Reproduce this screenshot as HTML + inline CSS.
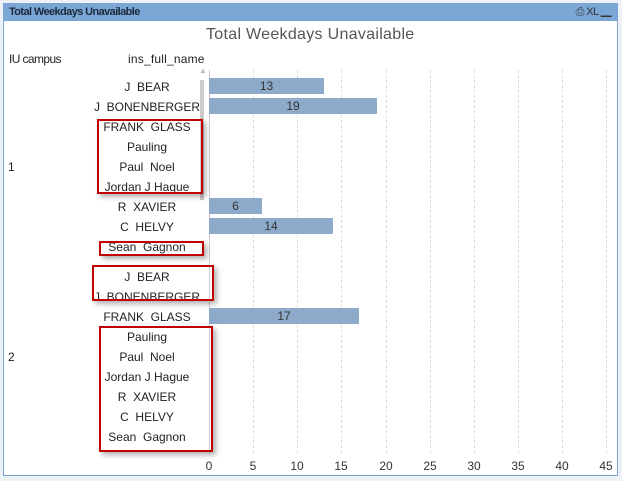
<!DOCTYPE html>
<html><head><style>
body{margin:0;width:622px;height:481px;background:#eef1f5;position:relative;overflow:hidden;font-family:"Liberation Sans",sans-serif}
.win{position:absolute;left:3px;top:3px;width:615px;height:473px;background:#fff;border:1px solid #7aa4d4;box-sizing:border-box}
.hdr{position:absolute;left:0;top:0;right:0;height:17px;background:#7ba7d7;font-weight:bold;font-size:11px;color:#1b2a3a;line-height:17px;padding-left:5px;letter-spacing:-0.6px}
.t{position:absolute;font-size:12px;color:#222;white-space:nowrap}
.n{position:absolute;font-size:12px;color:#222;white-space:nowrap;width:140px;left:77px;text-align:center}
.g{position:absolute;top:70px;height:383px;border-left:1px dashed #ddd}
.bar{position:absolute;height:16px;background:#8eaacb;left:209px;font-size:12px;color:#333;text-align:center;line-height:16px}
.rb{position:absolute;border:2px solid #c00000;box-shadow:3px 3px 5px rgba(0,0,0,.3)}
.x{position:absolute;top:459px;font-size:12px;color:#333;width:20px;text-align:center}
</style></head><body>
<div class="win"><div class="hdr">Total Weekdays Unavailable<span style="position:absolute;right:6px;top:0;font-weight:normal;font-size:11px;color:#333">⎙ XL ▁</span></div></div>
<div class="t" style="left:206px;top:26px;font-size:16px;letter-spacing:0.3px;color:#555">Total Weekdays Unavailable</div>
<div class="t" style="left:9px;top:52px;letter-spacing:-0.6px">IU campus</div>
<div class="t" style="left:128px;top:52px;letter-spacing:0.2px">ins_full_name</div>
<div class="g" style="left:209px;border-left:1px solid #ccc"></div>
<div class="g" style="left:253px"></div><div class="g" style="left:297px"></div><div class="g" style="left:341px"></div><div class="g" style="left:386px"></div><div class="g" style="left:430px"></div><div class="g" style="left:474px"></div><div class="g" style="left:518px"></div><div class="g" style="left:562px"></div><div class="g" style="left:606px"></div>
<div style="position:absolute;left:200px;top:80px;width:4px;height:120px;background:#ccc"></div>
<div class="t" style="left:199px;top:66px;font-size:8px;color:#bbb">▲</div>
<div class="bar" style="top:78px;width:115px">13</div>
<div class="bar" style="top:98px;width:168px">19</div>
<div class="bar" style="top:198px;width:53px">6</div>
<div class="bar" style="top:218px;width:124px">14</div>
<div class="bar" style="top:308px;width:150px">17</div>
<div class="n" style="top:80px">J&nbsp; BEAR</div>
<div class="n" style="top:100px">J&nbsp; BONENBERGER</div>
<div class="n" style="top:120px">FRANK&nbsp; GLASS</div>
<div class="n" style="top:140px">Pauling</div>
<div class="n" style="top:160px">Paul&nbsp; Noel</div>
<div class="n" style="top:180px">Jordan J Hague</div>
<div class="n" style="top:200px">R&nbsp; XAVIER</div>
<div class="n" style="top:220px">C&nbsp; HELVY</div>
<div class="n" style="top:240px">Sean&nbsp; Gagnon</div>
<div class="n" style="top:270px">J&nbsp; BEAR</div>
<div class="n" style="top:290px">J&nbsp; BONENBERGER</div>
<div class="n" style="top:310px">FRANK&nbsp; GLASS</div>
<div class="n" style="top:330px">Pauling</div>
<div class="n" style="top:350px">Paul&nbsp; Noel</div>
<div class="n" style="top:370px">Jordan J Hague</div>
<div class="n" style="top:390px">R&nbsp; XAVIER</div>
<div class="n" style="top:410px">C&nbsp; HELVY</div>
<div class="n" style="top:430px">Sean&nbsp; Gagnon</div>
<div class="t" style="left:8px;top:160px">1</div>
<div class="t" style="left:8px;top:350px">2</div>
<div class="rb" style="left:97px;top:119px;width:102px;height:71px"></div>
<div class="rb" style="left:99px;top:241px;width:101px;height:11px"></div>
<div class="rb" style="left:92px;top:265px;width:118px;height:32px"></div>
<div class="rb" style="left:99px;top:326px;width:110px;height:122px"></div>
<div class="x" style="left:199px">0</div><div class="x" style="left:243px">5</div><div class="x" style="left:287px">10</div><div class="x" style="left:331px">15</div><div class="x" style="left:376px">20</div><div class="x" style="left:420px">25</div><div class="x" style="left:464px">30</div><div class="x" style="left:508px">35</div><div class="x" style="left:552px">40</div><div class="x" style="left:596px">45</div>
</body></html>
